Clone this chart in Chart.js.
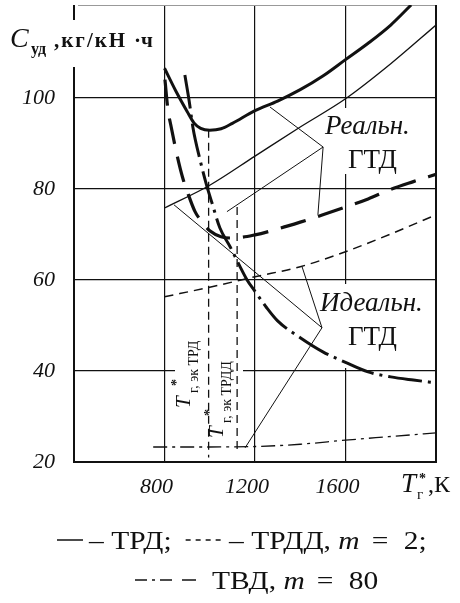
<!DOCTYPE html>
<html>
<head>
<meta charset="utf-8">
<script src="https://cdn.jsdelivr.net/npm/chart.js@4"></script>
<style>
  html, body { margin: 0; padding: 0; background: #fff; }
  canvas { display: block; }
</style>
</head>
<body>
<canvas id="myChart" width="460" height="603"></canvas>
<script>
// x: T_г*, K   y: C_уд, кг/(кН·ч)
const xTicks = [800, 1200, 1600];
const yTicks = [20, 40, 60, 80, 100];

// реальный ТРД (толстая сплошная)
const tTrdReal = [800, 850, 900, 930, 960, 1000, 1050, 1100, 1200, 1300, 1400, 1500, 1600, 1700, 1800, 1890];
const cTrdReal = [106.5, 101.5, 97, 94.5, 93.3, 92.9, 93.2, 94.4, 97.2, 99.3, 101.8, 104.8, 108.4, 112, 116, 120.4];

// реальный ТРДД (толстая штриховая)
const tTrddReal = [802, 815, 830, 855, 880, 900, 935, 970, 1000, 1050, 1100, 1200, 1300, 1400, 1500, 1600, 1700, 1800, 1900, 2000];
const cTrddReal = [104, 97.5, 93.5, 87.5, 82.5, 79.5, 75, 72.5, 70.8, 69.5, 69.2, 69.9, 71.2, 72.7, 74.3, 76, 77.8, 79.9, 81.6, 83.2];

// реальный ТВД (толстая штрихпунктирная)
const tTvdReal = [890, 910, 926, 957, 985, 1010, 1045, 1090, 1130, 1165, 1200, 1250, 1300, 1400, 1500, 1600, 1700, 1800, 1900, 2000];
const cTvdReal = [105, 99, 93.4, 86.4, 81, 76.9, 71.4, 67.3, 63.3, 60, 57.5, 54, 51, 47.3, 44.2, 41.9, 39.8, 38.7, 38, 37.4];

// идеальный ТРД (тонкая сплошная)
const tTrdIdeal = [800, 1000, 1200, 1400, 1600, 1800, 2000];
const cTrdIdeal = [75.8, 80.8, 87.2, 93.6, 99.8, 107.5, 116];

// идеальный ТРДД (тонкая штриховая)
const tTrddIdeal = [800, 1000, 1200, 1400, 1600, 1800, 2000];
const cTrddIdeal = [56.3, 58.4, 60.7, 62.9, 66.2, 70.1, 74.3];

// идеальный ТВД (тонкая штрихпунктирная)
const tTvdIdeal = [750, 1000, 1200, 1400, 1600, 1800, 2000];
const cTvdIdeal = [23.3, 23.3, 23.4, 23.9, 24.8, 25.6, 26.4];

// экономические температуры (вертикальные штриховые)
const tEkTrd = [995, 995];
const cEkTrd = [93, 21];
const tEkTrdd = [1121, 1121];
const cEkTrdd = [76, 22];

// выноски к надписям
const realVertex = [1501, 89.2];
const realTargets = [[1266, 98], [1478, 74.3], [1076, 75]];
const idealVertex = [1496, 49.5];
const idealTargets = [[842, 76.5], [1408, 62.9], [1156, 23.1]];

const INK = '#111';
const pts = (xs, ys) => xs.map((x, i) => ({ x: x, y: ys[i] }));

function curve(xs, ys, width, dash) {
  return {
    data: pts(xs, ys),
    borderColor: INK,
    borderWidth: width,
    borderDash: dash || [],
    pointRadius: 0,
    fill: false,
    cubicInterpolationMode: 'monotone'
  };
}
function straight(xs, ys, width, dash) {
  const d = curve(xs, ys, width, dash);
  delete d.cubicInterpolationMode;
  d.tension = 0;
  return d;
}

const datasets = [
  curve(tTrdReal, cTrdReal, 3),
  curve(tTrddReal, cTrddReal, 3.2, [26, 13]),
  curve(tTvdReal, cTvdReal, 3, [34, 6, 3, 6]),
  curve(tTrdIdeal, cTrdIdeal, 1.3),
  curve(tTrddIdeal, cTrddIdeal, 1.5, [9, 6]),
  curve(tTvdIdeal, cTvdIdeal, 1.3, [14, 5, 3, 5]),
  straight(tEkTrd, cEkTrd, 1.3, [8, 5]),
  straight(tEkTrdd, cEkTrdd, 1.3, [8, 5])
];
realTargets.forEach(p => datasets.push(straight([realVertex[0], p[0]], [realVertex[1], p[1]], 1)));
idealTargets.forEach(p => datasets.push(straight([idealVertex[0], p[0]], [idealVertex[1], p[1]], 1)));

const SERIF = "'Liberation Serif', 'DejaVu Serif', serif";

function noPad(s) {
  s.paddingTop = 0; s.paddingBottom = 0; s.paddingLeft = 0; s.paddingRight = 0;
}

const drawings = {
  id: 'drawings',
  beforeDatasetsDraw(chart) {
    const ctx = chart.ctx;
    const a = chart.chartArea;
    ctx.save();
    // рамка
    ctx.strokeStyle = '#999';
    ctx.lineWidth = 1;
    ctx.beginPath(); ctx.moveTo(a.left + 4, a.top + 0.5); ctx.lineTo(a.right, a.top + 0.5); ctx.stroke();
    ctx.strokeStyle = INK;
    ctx.lineWidth = 2;
    ctx.beginPath();
    ctx.moveTo(a.left, a.top); ctx.lineTo(a.left, a.bottom); ctx.lineTo(a.right, a.bottom); ctx.lineTo(a.right, a.top);
    ctx.stroke();
    // белые подложки под надписи
    ctx.fillStyle = '#fff';
    ctx.fillRect(0, 20, 158, 47);
    ctx.fillRect(322, 108, 103, 66);
    ctx.fillRect(318, 284, 114, 84);
    ctx.fillRect(175, 300, 68, 145);
    ctx.restore();
  },
  afterDatasetsDraw(chart) {
    const ctx = chart.ctx;
    ctx.save();
    ctx.fillStyle = INK;
    ctx.textBaseline = 'alphabetic';
    ctx.textAlign = 'left';

    // подпись оси Y
    ctx.font = 'italic 28px ' + SERIF;
    ctx.fillText('C', 10, 47);
    ctx.font = 'bold 16px ' + SERIF;
    ctx.fillText('уд', 31, 54);
    ctx.font = 'bold 21px ' + SERIF;
    ctx.letterSpacing = '2px';
    ctx.fillText(',кг/кН', 54, 47);
    ctx.letterSpacing = '0px';
    ctx.fillText('·ч', 134, 47);

    // подпись оси X
    ctx.font = 'italic 27px ' + SERIF;
    ctx.fillText('T', 401, 492);
    ctx.font = 'bold 14px ' + SERIF;
    ctx.fillText('*', 419, 483);
    ctx.font = '15px ' + SERIF;
    ctx.fillText('г', 417, 499);
    ctx.font = '24px ' + SERIF;
    ctx.fillText(',К', 428, 492);

    // надписи на поле
    ctx.font = 'italic 27px ' + SERIF;
    ctx.fillText('Реальн.', 325, 134);
    ctx.fillText('Идеальн.', 320, 311);
    ctx.font = '27px ' + SERIF;
    ctx.fillText('ГТД', 348, 168);
    ctx.fillText('ГТД', 348, 345);

    // повернутые подписи T*г.эк
    function rotLabel(x, y, sub) {
      ctx.save();
      ctx.translate(x, y);
      ctx.rotate(-Math.PI / 2);
      ctx.font = 'italic 21px ' + SERIF;
      ctx.fillText('T', 0, 0);
      ctx.font = 'bold 14px ' + SERIF;
      ctx.fillText('*', 22, -9);
      ctx.font = '14px ' + SERIF;
      ctx.fillText(sub, 15, 8);
      ctx.restore();
    }
    rotLabel(190, 408, 'г, эк ТРД');
    rotLabel(223, 438, 'г, эк ТРДД');
    ctx.restore();
  },
  afterDraw(chart) {
    const ctx = chart.ctx;
    ctx.save();
    ctx.fillStyle = INK;
    ctx.strokeStyle = INK;
    ctx.textBaseline = 'alphabetic';
    const K = 1.18;
    // текст с растяжкой по горизонтали, возвращает правый край
    function run(parts, x, y) {
      parts.forEach(p => {
        ctx.font = (p[1] ? 'italic ' : '') + '25px ' + SERIF;
        const w = ctx.measureText(p[0]).width * K;
        ctx.save();
        ctx.translate(x, y);
        ctx.scale(K, 1);
        ctx.fillText(p[0], 0, 0);
        ctx.restore();
        x += w;
      });
      return x;
    }
    function seg(x1, x2, y) {
      ctx.beginPath(); ctx.moveTo(x1, y); ctx.lineTo(x2, y); ctx.stroke();
    }
    ctx.lineWidth = 1.5;
    // строка 1
    seg(57, 83, 540);
    let x = run([['– ТРД;', 0]], 89, 549);
    ctx.setLineDash([5, 5]);
    seg(x + 14, x + 49, 540);
    ctx.setLineDash([]);
    x = run([[' – ТРДД, ', 0], ['m', 1]], x + 50, 549);
    run([['=', 0]], x + 12, 549);
    run([['2;', 0]], x + 44, 549);
    // строка 2
    seg(135, 147, 580);
    seg(152, 155, 580);
    seg(160, 172, 580);
    seg(182, 196, 580);
    x = run([['ТВД, ', 0], ['m', 1]], 212, 589);
    run([['=', 0]], x + 12, 589);
    run([['80', 0]], x + 44, 589);
    ctx.restore();
  }
};

const ctx = document.getElementById('myChart');
new Chart(ctx, {
  type: 'line',
  data: { datasets: datasets },
  options: {
    responsive: false,
    animation: false,
    devicePixelRatio: 1,
    layout: { padding: { left: 0, top: 5, right: 24, bottom: 0 } },
    plugins: { legend: { display: false }, tooltip: { enabled: false } },
    scales: {
      x: {
        type: 'linear',
        min: 400,
        max: 2000,
        afterFit: s => { s.height = 141; noPad(s); },
        afterBuildTicks: s => { s.ticks = [400].concat(xTicks, [2000]).map(v => ({ value: v })); },
        border: { display: false },
        grid: { color: INK, lineWidth: 1.2, drawTicks: false },
        ticks: {
          padding: 12,
          labelOffset: -8,
          color: INK,
          font: { family: SERIF, size: 22, style: 'italic' },
          callback: v => (xTicks.includes(v) ? String(v) : '')
        }
      },
      y: {
        type: 'linear',
        min: 20,
        max: 120.4,
        afterFit: s => { s.width = 74; noPad(s); },
        afterBuildTicks: s => { s.ticks = yTicks.map(v => ({ value: v })); },
        border: { display: false },
        grid: { color: INK, lineWidth: 1.2, drawTicks: false },
        ticks: {
          padding: 19,
          color: INK,
          font: { family: SERIF, size: 22, style: 'italic' },
          callback: v => String(v)
        }
      }
    }
  },
  plugins: [drawings]
});
</script>
</body>
</html>
